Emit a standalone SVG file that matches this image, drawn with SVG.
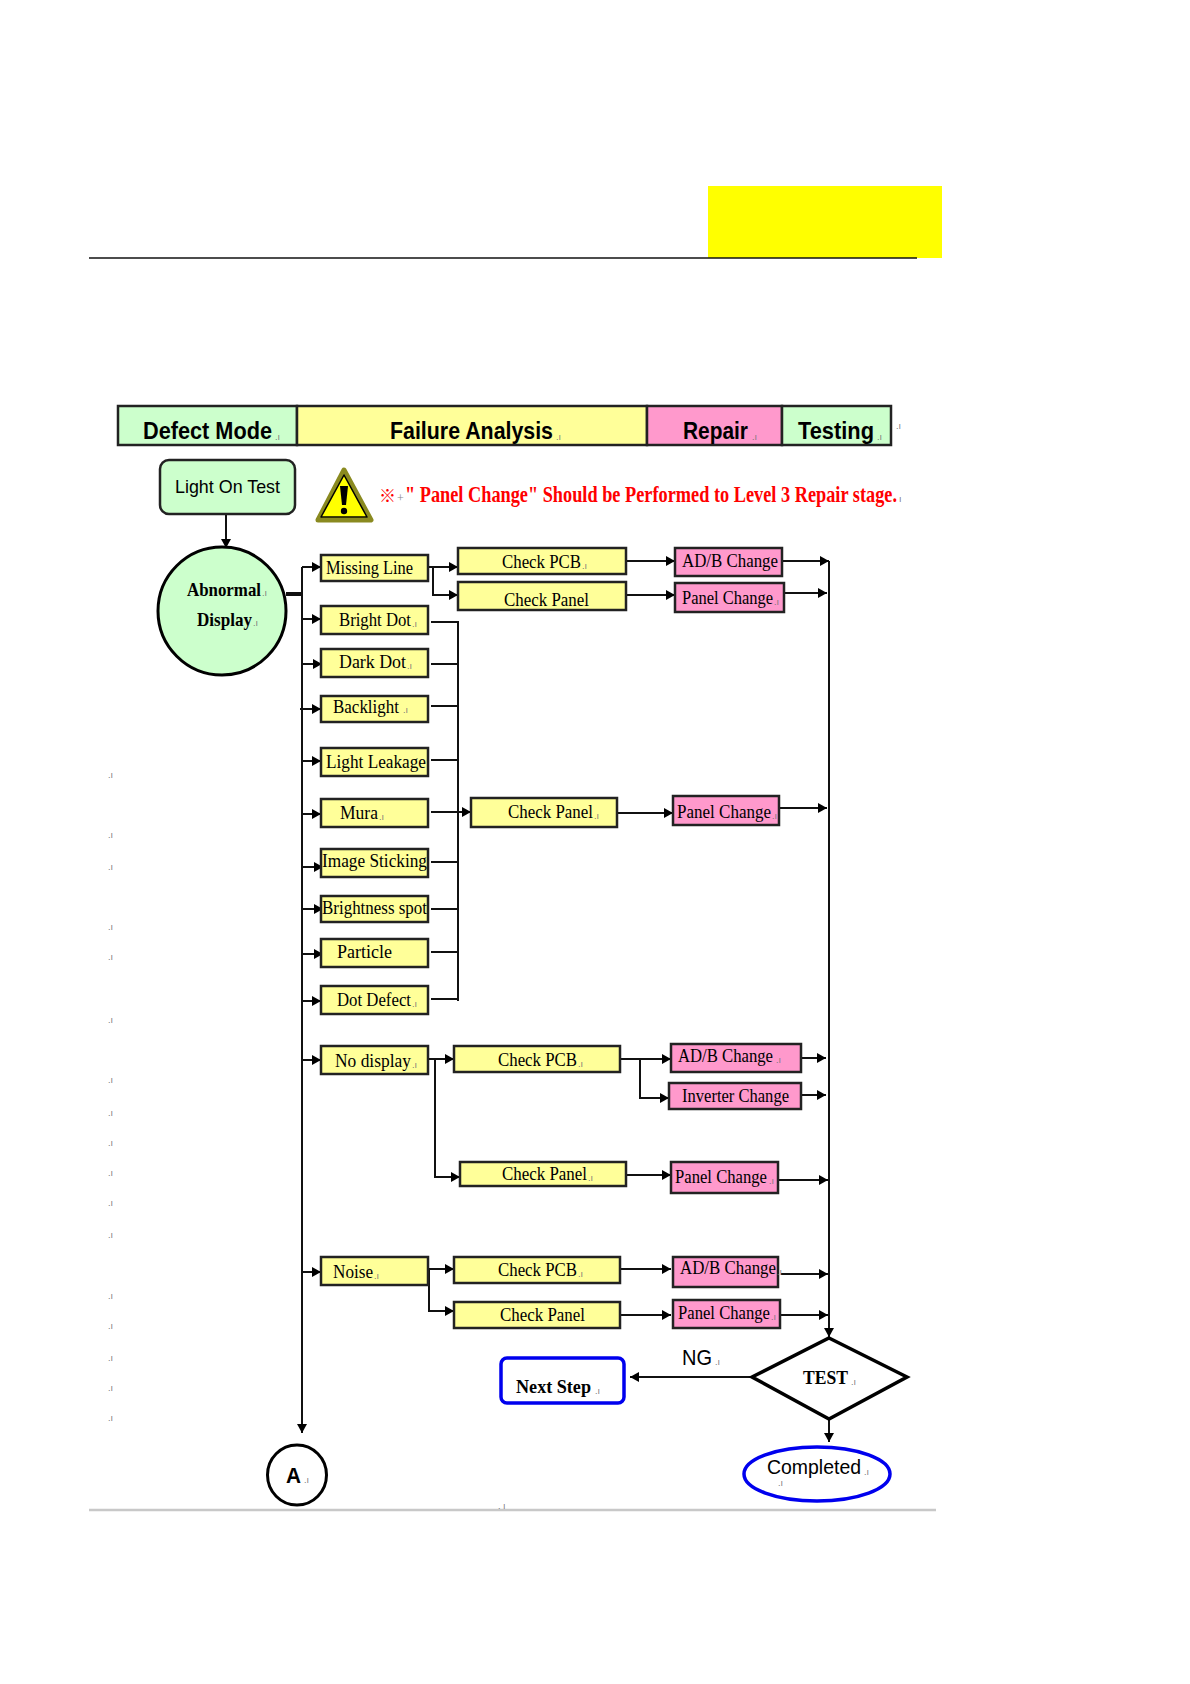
<svg xmlns="http://www.w3.org/2000/svg" width="1190" height="1684" viewBox="0 0 1190 1684">
<style>
text{font-family:"Liberation Serif","Times New Roman",serif;fill:#000;font-size:19px;white-space:pre}
.y,.p,.g{stroke:#222;stroke-width:2.5}
.y{fill:#ffff99}.p{fill:#ff99cc}.g{fill:#ccffcc}
.h{font-family:"Liberation Sans",Arial,sans-serif;font-weight:700;font-size:24px}
.s{font-family:"Liberation Sans",Arial,sans-serif}
.b{font-weight:700}
.r{fill:#ff0000;font-weight:700;font-size:23px}
.m{font-family:"Liberation Sans",Arial,sans-serif;font-size:9px;fill:#777;font-weight:400}
.c path{fill:none;stroke:#111;stroke-width:2}
</style>
<defs>
<marker id="a" markerUnits="userSpaceOnUse" markerWidth="12" markerHeight="12" refX="10" refY="6" orient="auto"><path d="M1 1L10 6L1 11Z" fill="#000"/></marker>
</defs>
<rect width="1190" height="1684" fill="#fff"/>
<rect x="708" y="186" width="234" height="72" fill="#ffff00"/>
<path d="M89 258H917" stroke="#111" stroke-width="1.3" fill="none"/>
<path d="M89 1510H936" stroke="#c8c8c8" stroke-width="2.5" fill="none"/>

<g id="header">
<rect class="g" x="118" y="406" width="179" height="39"/>
<rect class="y" x="297" y="406" width="350" height="39"/>
<rect class="p" x="647" y="406" width="135" height="39"/>
<rect class="g" x="782" y="406" width="109" height="39"/>
<text class="h" x="143" y="439" textLength="129" lengthAdjust="spacingAndGlyphs">Defect Mode</text><text class="m" x="275" y="440">.ı</text>
<text class="h" x="390" y="439" textLength="163" lengthAdjust="spacingAndGlyphs">Failure Analysis</text><text class="m" x="556" y="440">.ı</text>
<text class="h" x="683" y="439" textLength="65" lengthAdjust="spacingAndGlyphs">Repair</text><text class="m" x="752" y="440">.ı</text>
<text class="h" x="798" y="439" textLength="76" lengthAdjust="spacingAndGlyphs">Testing</text><text class="m" x="877" y="440">.ı</text>
<text class="m" x="896" y="429">.ı</text>
</g>

<g id="warning">
<path d="M344 470L371 520H318Z" fill="#ffff00" stroke="#8a8a20" stroke-width="5" stroke-linejoin="round"/>
<path d="M344 475L367 517H321Z" fill="#ffff00" stroke="#000" stroke-width="1.5" stroke-linejoin="round"/>
<path d="M340 486H348L346 505H342Z" fill="#000"/>
<circle cx="344" cy="511" r="3.2" fill="#000"/>
<text class="r" x="379" y="502" textLength="17" lengthAdjust="spacingAndGlyphs" style="font-family:'Noto Sans CJK SC','Liberation Serif',serif;font-size:17px">※</text>
<text x="397" y="502" style="fill:#888;font-size:12px">+</text>
<text class="r" x="405" y="502" textLength="492" lengthAdjust="spacingAndGlyphs">" Panel Change" Should be Performed to Level 3 Repair stage.</text>
<text class="m" x="899" y="502">ı</text>
</g>

<g id="connectors" class="c">
<path d="M226 514V548" marker-end="url(#a)"/>
<path d="M286 594H302" style="stroke-width:4"/>
<path d="M302 567V1433" marker-end="url(#a)"/>
<path d="M302 567H321" marker-end="url(#a)"/>
<path d="M302 619H321" marker-end="url(#a)"/>
<path d="M302 664H322" marker-end="url(#a)"/>
<path d="M300 709H321" marker-end="url(#a)"/>
<path d="M302 761H321" marker-end="url(#a)"/>
<path d="M302 814H321" marker-end="url(#a)"/>
<path d="M302 867H323" marker-end="url(#a)"/>
<path d="M302 909H323" marker-end="url(#a)"/>
<path d="M302 954H323" marker-end="url(#a)"/>
<path d="M302 1001H321" marker-end="url(#a)"/>
<path d="M302 1060H321" marker-end="url(#a)"/>
<path d="M302 1272H321" marker-end="url(#a)"/>
<path d="M428 567H458" marker-end="url(#a)"/>
<path d="M433 567V595H458" marker-end="url(#a)"/>
<path d="M431 622H458V1001"/>
<path d="M431 664H458M431 706H458M431 760H458M431 862H458M431 909H458M431 952H458M431 999H458"/>
<path d="M431 812H471" marker-end="url(#a)"/>
<path d="M626 561H675" marker-end="url(#a)"/>
<path d="M626 595H675" marker-end="url(#a)"/>
<path d="M782 561H829" marker-end="url(#a)"/>
<path d="M784 593H827" marker-end="url(#a)"/>
<path d="M617 813H673" marker-end="url(#a)"/>
<path d="M779 808H827" marker-end="url(#a)"/>
<path d="M428 1059H454" marker-end="url(#a)"/>
<path d="M435 1059V1177H460" marker-end="url(#a)"/>
<path d="M620 1059H671" marker-end="url(#a)"/>
<path d="M640 1059V1098H669" marker-end="url(#a)"/>
<path d="M801 1058H826" marker-end="url(#a)"/>
<path d="M801 1095H826" marker-end="url(#a)"/>
<path d="M626 1175H671" marker-end="url(#a)"/>
<path d="M778 1180H828" marker-end="url(#a)"/>
<path d="M428 1269H454" marker-end="url(#a)"/>
<path d="M429 1269V1311H454" marker-end="url(#a)"/>
<path d="M620 1269H671" marker-end="url(#a)"/>
<path d="M620 1315H671" marker-end="url(#a)"/>
<path d="M781 1274H828" marker-end="url(#a)"/>
<path d="M780 1315H828" marker-end="url(#a)"/>
<path d="M829 561V1337" marker-end="url(#a)"/>
<path d="M751 1377H630" marker-end="url(#a)"/>
<path d="M829 1420V1442" marker-end="url(#a)"/>
</g>

<g id="light-on-test"><rect class="g" x="160" y="460" width="135" height="54" rx="9"/><text class="s" x="175" y="493" textLength="105" lengthAdjust="spacingAndGlyphs">Light On Test</text></g>
<g id="abnormal-display"><circle cx="222" cy="611" r="64" fill="#ccffcc" stroke="#000" stroke-width="3"/><text class="b" x="187" y="596" textLength="74" lengthAdjust="spacingAndGlyphs">Abnormal</text><text class="m" x="262" y="596">.ı</text><text class="b" x="197" y="626" textLength="55" lengthAdjust="spacingAndGlyphs">Display</text><text class="m" x="253" y="626">.ı</text></g>

<g id="missing-line"><rect class="y" x="321" y="555" width="107" height="26"/><text x="326" y="574" textLength="87" lengthAdjust="spacingAndGlyphs">Missing Line</text></g>
<g id="bright-dot"><rect class="y" x="321" y="606" width="107" height="28"/><text x="339" y="626" textLength="72" lengthAdjust="spacingAndGlyphs">Bright Dot</text><text class="m" x="412" y="627">.ı</text></g>
<g id="dark-dot"><rect class="y" x="321" y="649" width="107" height="28"/><text x="339" y="668" textLength="67" lengthAdjust="spacingAndGlyphs">Dark Dot</text><text class="m" x="407" y="669">.ı</text></g>
<g id="backlight"><rect class="y" x="321" y="696" width="107" height="26"/><text x="333" y="713" textLength="66" lengthAdjust="spacingAndGlyphs">Backlight</text><text class="m" x="403" y="713">.ı</text></g>
<g id="light-leakage"><rect class="y" x="321" y="748" width="107" height="28"/><text x="326" y="768" textLength="100" lengthAdjust="spacingAndGlyphs">Light Leakage</text></g>
<g id="mura"><rect class="y" x="321" y="799" width="107" height="28"/><text x="340" y="819" textLength="38" lengthAdjust="spacingAndGlyphs">Mura</text><text class="m" x="379" y="820">.ı</text></g>
<g id="image-sticking"><rect class="y" x="321" y="849" width="107" height="28"/><text x="322" y="867" textLength="105" lengthAdjust="spacingAndGlyphs">Image Sticking</text></g>
<g id="brightness-spot"><rect class="y" x="321" y="896" width="107" height="26"/><text x="322" y="914" textLength="105" lengthAdjust="spacingAndGlyphs">Brightness spot</text></g>
<g id="particle"><rect class="y" x="321" y="939" width="107" height="28"/><text x="337" y="958" textLength="55" lengthAdjust="spacingAndGlyphs">Particle</text></g>
<g id="dot-defect"><rect class="y" x="321" y="986" width="107" height="28"/><text x="337" y="1006" textLength="74" lengthAdjust="spacingAndGlyphs">Dot Defect</text><text class="m" x="412" y="1007">.ı</text></g>
<g id="no-display"><rect class="y" x="321" y="1046" width="107" height="28"/><text x="335" y="1067" textLength="76" lengthAdjust="spacingAndGlyphs">No display</text><text class="m" x="412" y="1068">.ı</text></g>
<g id="noise"><rect class="y" x="321" y="1257" width="107" height="28"/><text x="333" y="1278" textLength="40" lengthAdjust="spacingAndGlyphs">Noise</text><text class="m" x="374" y="1279">.ı</text></g>

<g id="check-pcb-1"><rect class="y" x="458" y="548" width="168" height="26"/><text x="502" y="568" textLength="79" lengthAdjust="spacingAndGlyphs">Check PCB</text><text class="m" x="582" y="569">.ı</text></g>
<g id="check-panel-1"><rect class="y" x="458" y="582" width="168" height="28"/><text x="504" y="606" textLength="85" lengthAdjust="spacingAndGlyphs">Check Panel</text></g>
<g id="adb-change-1"><rect class="p" x="675" y="548" width="107" height="28"/><text x="682" y="567" textLength="96" lengthAdjust="spacingAndGlyphs">AD/B Change</text></g>
<g id="panel-change-1"><rect class="p" x="675" y="583" width="109" height="29"/><text x="682" y="604" textLength="91" lengthAdjust="spacingAndGlyphs">Panel Change</text><text class="m" x="774" y="605">.ı</text></g>

<g id="check-panel-2"><rect class="y" x="471" y="798" width="146" height="29"/><text x="508" y="818" textLength="85" lengthAdjust="spacingAndGlyphs">Check Panel</text><text class="m" x="594" y="819">.ı</text></g>
<g id="panel-change-2"><rect class="p" x="673" y="796" width="106" height="29"/><text x="677" y="818" textLength="94" lengthAdjust="spacingAndGlyphs">Panel Change</text><text class="m" x="772" y="819">.ı</text></g>

<g id="check-pcb-3"><rect class="y" x="454" y="1046" width="166" height="26"/><text x="498" y="1066" textLength="79" lengthAdjust="spacingAndGlyphs">Check PCB</text><text class="m" x="578" y="1067">.ı</text></g>
<g id="adb-change-3"><rect class="p" x="671" y="1044" width="130" height="28"/><text x="678" y="1062" textLength="95" lengthAdjust="spacingAndGlyphs">AD/B Change</text><text class="m" x="776" y="1063">.ı</text></g>
<g id="inverter-change"><rect class="p" x="669" y="1083" width="132" height="26"/><text x="682" y="1102" textLength="107" lengthAdjust="spacingAndGlyphs">Inverter Change</text></g>
<g id="check-panel-3"><rect class="y" x="460" y="1162" width="166" height="24"/><text x="502" y="1180" textLength="85" lengthAdjust="spacingAndGlyphs">Check Panel</text><text class="m" x="588" y="1181">.ı</text></g>
<g id="panel-change-3"><rect class="p" x="671" y="1162" width="107" height="31"/><text x="675" y="1183" textLength="92" lengthAdjust="spacingAndGlyphs">Panel Change</text><text class="m" x="769" y="1184">.ı</text></g>

<g id="check-pcb-4"><rect class="y" x="454" y="1257" width="166" height="26"/><text x="498" y="1276" textLength="79" lengthAdjust="spacingAndGlyphs">Check PCB</text><text class="m" x="578" y="1277">.ı</text></g>
<g id="adb-change-4"><rect class="p" x="673" y="1257" width="105" height="30"/><text x="680" y="1274" textLength="96" lengthAdjust="spacingAndGlyphs">AD/B Change</text><text class="m" x="777" y="1275">.ı</text></g>
<g id="check-panel-4"><rect class="y" x="454" y="1302" width="166" height="26"/><text x="500" y="1321" textLength="85" lengthAdjust="spacingAndGlyphs">Check Panel</text></g>
<g id="panel-change-4"><rect class="p" x="673" y="1300" width="107" height="28"/><text x="678" y="1319" textLength="92" lengthAdjust="spacingAndGlyphs">Panel Change</text><text class="m" x="771" y="1320">.ı</text></g>

<g id="test"><path d="M829 1338L907 1377L829 1419L752 1377Z" fill="#fff" stroke="#000" stroke-width="3.5"/><text class="b" x="803" y="1384" textLength="45" lengthAdjust="spacingAndGlyphs">TEST</text><text class="m" x="851" y="1385">.ı</text></g>
<g id="ng-label"><text class="s" x="682" y="1365" textLength="30" lengthAdjust="spacingAndGlyphs" style="font-size:22px">NG</text><text class="m" x="715" y="1365">.ı</text></g>
<g id="next-step"><rect x="501" y="1358" width="123" height="45" rx="6" fill="#fff" stroke="#0000ee" stroke-width="3.5"/><text class="b" x="516" y="1393" textLength="75" lengthAdjust="spacingAndGlyphs">Next Step</text><text class="m" x="595" y="1394">.ı</text></g>
<g id="a-node"><ellipse cx="297" cy="1475" rx="29.5" ry="30" fill="#fff" stroke="#000" stroke-width="3"/><text class="s" x="286" y="1483" textLength="15" lengthAdjust="spacingAndGlyphs" style="font-size:22px;font-weight:700">A</text><text class="m" x="304" y="1483">.ı</text></g>
<g id="completed"><ellipse cx="817" cy="1474" rx="73" ry="27" fill="#fff" stroke="#0000ee" stroke-width="3.5"/><text class="s" x="767" y="1474" textLength="94" lengthAdjust="spacingAndGlyphs" style="font-size:20px">Completed</text><text class="m" x="864" y="1475">.ı</text><text class="m" x="778" y="1486">.ı</text></g>

<g id="marks">
<text class="m" x="108" y="778">.ı</text><text class="m" x="108" y="838">.ı</text><text class="m" x="108" y="870">.ı</text><text class="m" x="108" y="930">.ı</text><text class="m" x="108" y="960">.ı</text><text class="m" x="108" y="1023">.ı</text><text class="m" x="108" y="1083">.ı</text><text class="m" x="108" y="1116">.ı</text><text class="m" x="108" y="1146">.ı</text><text class="m" x="108" y="1176">.ı</text><text class="m" x="108" y="1206">.ı</text><text class="m" x="108" y="1238">.ı</text><text class="m" x="108" y="1299">.ı</text><text class="m" x="108" y="1329">.ı</text><text class="m" x="108" y="1361">.ı</text><text class="m" x="108" y="1391">.ı</text><text class="m" x="108" y="1421">.ı</text><text class="m" x="498" y="1509">.&#160;ı</text>
</g>
</svg>
